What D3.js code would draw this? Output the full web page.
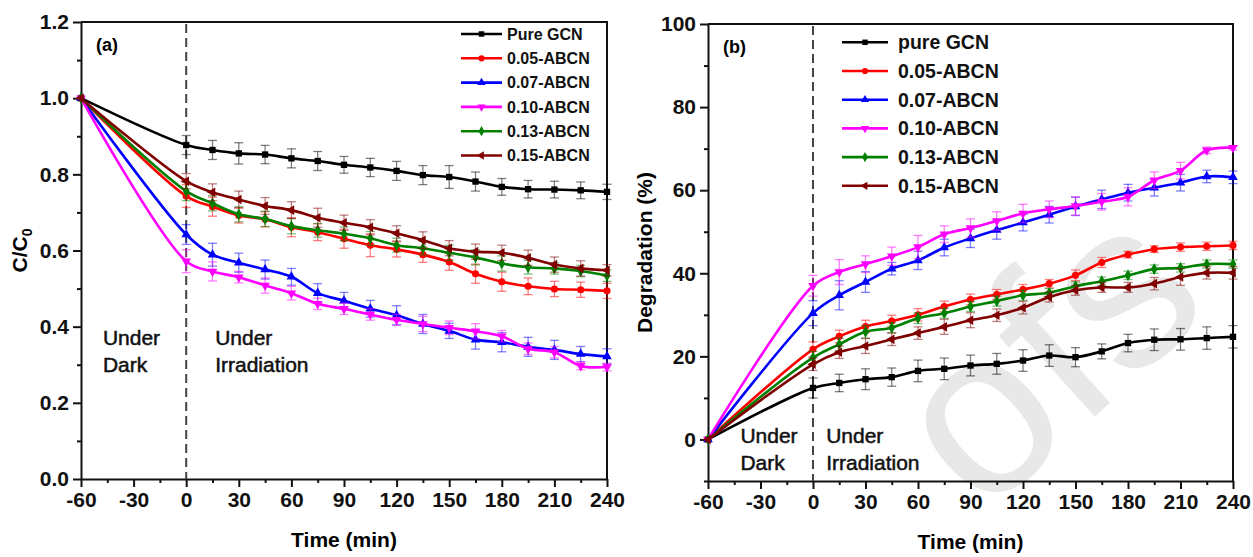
<!DOCTYPE html>
<html>
<head>
<meta charset="utf-8">
<title></title>
<style>
  body { margin:0; background:#fff; }
  svg { display:block; font-family:"Liberation Sans", Arial, sans-serif; }
  .tick text { font-weight:bold; font-size:21px; fill:#111; }
  .axis path, .axis line { stroke:#111; stroke-width:2; }
</style>
</head>
<body>
<svg id="chart" width="1253" height="557"></svg>
<script src="https://d3js.org/d3.v7.min.js"></script>
<script>
// time points (min)
var times = [-60, 0, 15, 30, 45, 60, 75, 90, 105, 120, 135, 150, 165, 180, 195, 210, 225, 240];
var xTicks = [-60, -30, 0, 30, 60, 90, 120, 150, 180, 210, 240];

// (a) C/C0
var gcnA    = [1.0, 0.877, 0.864, 0.855, 0.852, 0.842, 0.835, 0.825, 0.818, 0.809, 0.798, 0.793, 0.781, 0.767, 0.761, 0.760, 0.758, 0.754];
var abcn05A = [1.0, 0.743, 0.715, 0.692, 0.682, 0.661, 0.648, 0.631, 0.614, 0.603, 0.589, 0.570, 0.539, 0.518, 0.506, 0.499, 0.497, 0.494];
var abcn07A = [1.0, 0.642, 0.589, 0.568, 0.550, 0.531, 0.488, 0.468, 0.447, 0.430, 0.407, 0.389, 0.366, 0.359, 0.347, 0.339, 0.328, 0.322];
var abcn10A = [1.0, 0.572, 0.545, 0.530, 0.508, 0.488, 0.460, 0.447, 0.432, 0.418, 0.407, 0.397, 0.388, 0.375, 0.342, 0.333, 0.297, 0.294];
var abcn13A = [1.0, 0.756, 0.724, 0.695, 0.683, 0.664, 0.653, 0.644, 0.632, 0.614, 0.606, 0.594, 0.582, 0.566, 0.556, 0.553, 0.546, 0.534];
var abcn15A = [1.0, 0.782, 0.753, 0.734, 0.717, 0.706, 0.686, 0.673, 0.661, 0.645, 0.627, 0.606, 0.597, 0.594, 0.581, 0.563, 0.553, 0.548];

var errGcnA = [0, 0.025, 0.025, 0.028, 0.024, 0.025, 0.025, 0.022, 0.024, 0.025, 0.025, 0.030, 0.025, 0.022, 0.023, 0.022, 0.022, 0.020];
var err05A  = [0, 0.030, 0.025, 0.020, 0.020, 0.025, 0.022, 0.025, 0.030, 0.020, 0.020, 0.022, 0.025, 0.025, 0.022, 0.020, 0.020, 0.020];
var err07A  = [0, 0.026, 0.030, 0.025, 0.025, 0.022, 0.025, 0.022, 0.022, 0.025, 0.025, 0.020, 0.025, 0.025, 0.025, 0.025, 0.020, 0.020];
var err10A  = [0, 0.030, 0.025, 0.015, 0.020, 0.018, 0.015, 0.015, 0.015, 0.015, 0.020, 0.018, 0.020, 0.015, 0.015, 0.015, 0.010, 0.010];
var err13A  = [0, 0.025, 0.020, 0.020, 0.020, 0.020, 0.018, 0.018, 0.018, 0.018, 0.018, 0.020, 0.020, 0.020, 0.018, 0.015, 0.015, 0.015];
var err15A  = [0, 0.020, 0.022, 0.022, 0.022, 0.022, 0.025, 0.020, 0.020, 0.020, 0.022, 0.020, 0.020, 0.020, 0.020, 0.020, 0.020, 0.015];

// (b) Degradation (%)
var gcnB    = [0, 12.4, 13.6, 14.5, 15.0, 16.5, 17.0, 17.8, 18.2, 19.0, 20.2, 19.8, 21.2, 23.2, 24.0, 24.1, 24.4, 24.7];
var abcn05B = [0, 21.7, 24.8, 27.2, 28.5, 30.0, 32.0, 33.7, 34.9, 36.1, 37.5, 39.5, 42.6, 44.5, 45.8, 46.3, 46.5, 46.7];
var abcn07B = [0, 30.4, 34.7, 37.9, 41.1, 43.1, 46.2, 48.4, 50.4, 52.2, 54.1, 56.1, 57.8, 59.4, 60.6, 61.8, 63.3, 63.1];
var abcn10B = [0, 37.0, 40.3, 42.2, 44.1, 46.3, 49.4, 50.9, 52.6, 54.4, 55.4, 56.2, 57.2, 58.4, 62.4, 64.7, 69.6, 70.2];
var abcn13B = [0, 19.7, 22.9, 25.9, 26.9, 29.2, 30.4, 32.0, 33.3, 34.7, 35.3, 36.9, 38.1, 39.5, 41.0, 41.3, 42.2, 42.2];
var abcn15B = [0, 18.1, 21.0, 22.5, 24.1, 25.6, 27.1, 28.7, 29.9, 31.7, 34.3, 35.9, 36.6, 36.6, 37.5, 39.1, 40.1, 40.1];

var errGcnB = [0, 2.4, 2.1, 2.5, 2.2, 2.6, 2.6, 2.5, 2.5, 2.6, 2.6, 2.3, 1.8, 2.1, 2.6, 2.6, 2.7, 2.7];
var err05B  = [0, 1.8, 1.5, 1.5, 1.4, 1.5, 1.3, 1.3, 1.2, 1.2, 1.0, 1.3, 1.2, 0.8, 0.8, 1.0, 1.0, 1.0];
var err07B  = [0, 3.0, 3.5, 2.5, 1.5, 2.2, 2.0, 2.2, 2.2, 2.0, 2.0, 2.2, 2.2, 2.0, 2.0, 2.0, 1.5, 1.5];
var err10B  = [0, 2.5, 3.0, 2.0, 2.2, 2.8, 2.0, 2.2, 2.2, 2.2, 2.0, 2.2, 2.0, 2.2, 2.0, 2.0, 0.8, 0.5];
var err13B  = [0, 1.5, 1.5, 1.5, 1.2, 1.3, 1.2, 1.2, 1.2, 1.2, 1.0, 1.0, 1.0, 1.0, 1.0, 1.0, 1.0, 1.0];
var err15B  = [0, 1.5, 1.5, 1.8, 1.5, 1.5, 1.8, 1.8, 1.5, 1.5, 1.2, 1.2, 1.2, 1.2, 1.5, 2.0, 1.5, 1.5];

var labelsA = ['Pure GCN', '0.05-ABCN', '0.07-ABCN', '0.10-ABCN', '0.13-ABCN', '0.15-ABCN'];
var labelsB = ['pure GCN', '0.05-ABCN', '0.07-ABCN', '0.10-ABCN', '0.13-ABCN', '0.15-ABCN'];
var colors  = ['#000000', '#ff0000', '#0000ff', '#ff00ff', '#008000', '#800000'];
var symbols = [
  {type: d3.symbolSquare, rot: 0},
  {type: d3.symbolCircle, rot: 0},
  {type: d3.symbolTriangle, rot: 0},
  {type: d3.symbolTriangle, rot: 180},
  {type: d3.symbolDiamond, rot: 0},
  {type: d3.symbolTriangle, rot: -90}
];

var svg = d3.select('#chart');

// faint watermark behind everything
svg.append('text')
  .attr('transform', 'translate(982,518) rotate(-42)')
  .style('font-size', '235px')
  .style('fill', '#e8e8e8')
  .text('ofs');

function drawPanel(p) {
  var x = d3.scaleLinear().domain([-60, 240]).range([p.left, p.right]);
  var y = d3.scaleLinear().domain(p.yDomain).range([p.bottom, p.top]);
  var g = svg.append('g');

  // minor ticks
  g.append('g').attr('class', 'axis')
    .attr('transform', 'translate(0,' + p.bottom + ')')
    .call(d3.axisBottom(x).tickValues(d3.range(-45, 240, 30)).tickSize(4).tickFormat(''))
    .select('.domain').remove();
  g.append('g').attr('class', 'axis')
    .attr('transform', 'translate(' + p.left + ',0)')
    .call(d3.axisLeft(y).tickValues(p.yMinor).tickSize(4).tickFormat(''))
    .select('.domain').remove();

  // major axes
  g.append('g').attr('class', 'axis')
    .attr('transform', 'translate(0,' + p.bottom + ')')
    .call(d3.axisBottom(x).tickValues(xTicks).tickSize(8).tickSizeOuter(0).tickPadding(5)
      .tickFormat(function(d) { return String(d); }));
  g.append('g').attr('class', 'axis')
    .attr('transform', 'translate(' + p.left + ',0)')
    .call(d3.axisLeft(y).tickValues(p.yTicks).tickSize(8).tickSizeOuter(0).tickPadding(4).tickFormat(p.yFormat));

  // top & right frame
  g.append('path')
    .attr('d', 'M' + p.left + ',' + p.top + 'H' + p.right + 'V' + p.bottom)
    .attr('fill', 'none').attr('stroke', '#111').attr('stroke-width', 2);

  // dashed separator at t = 0
  g.append('line')
    .attr('x1', x(0)).attr('x2', x(0)).attr('y1', p.top + 2).attr('y2', p.bottom)
    .attr('stroke', '#444').attr('stroke-width', 2).attr('stroke-dasharray', '9,5');

  // series
  var line = d3.line().x(function(d) { return x(d.t); }).y(function(d) { return y(d.v); })
    .curve(d3.curveCatmullRom.alpha(0.5));

  p.series.forEach(function(vals, i) {
    var pts = times.map(function(t, k) { return {t: t, v: vals[k], e: p.errs[i][k]}; });
    var sg = g.append('g');
    var eb = sg.append('g').attr('stroke', colors[i]).attr('stroke-opacity', 0.5).attr('stroke-width', 1.3);
    pts.filter(function(d) { return d.e > 0; }).forEach(function(d) {
      var cx = x(d.t), y1 = y(d.v - d.e), y2 = y(d.v + d.e);
      eb.append('line').attr('x1', cx).attr('x2', cx).attr('y1', y1).attr('y2', y2);
      eb.append('line').attr('x1', cx - 4.5).attr('x2', cx + 4.5).attr('y1', y1).attr('y2', y1);
      eb.append('line').attr('x1', cx - 4.5).attr('x2', cx + 4.5).attr('y1', y2).attr('y2', y2);
    });
    sg.append('path').datum(pts)
      .attr('d', line).attr('fill', 'none')
      .attr('stroke', colors[i]).attr('stroke-width', 2.6);
    sg.selectAll('path.mk').data(pts).enter().append('path')
      .attr('class', 'mk')
      .attr('d', d3.symbol().type(symbols[i].type).size(40))
      .attr('transform', function(d) { return 'translate(' + x(d.t) + ',' + y(d.v) + ') rotate(' + symbols[i].rot + ')'; })
      .attr('fill', colors[i]);
  });

  // legend
  var lg = g.append('g');
  p.labels.forEach(function(lab, i) {
    var ly = p.leg.y + i * p.leg.dy;
    lg.append('line')
      .attr('x1', p.leg.x1).attr('x2', p.leg.x2).attr('y1', ly).attr('y2', ly)
      .attr('stroke', colors[i]).attr('stroke-width', 2.6);
    lg.append('path')
      .attr('d', d3.symbol().type(symbols[i].type).size(30))
      .attr('transform', 'translate(' + ((p.leg.x1 + p.leg.x2) / 2) + ',' + ly + ') rotate(' + symbols[i].rot + ')')
      .attr('fill', colors[i]);
    lg.append('text')
      .attr('x', p.leg.tx).attr('y', ly).attr('dy', '0.36em')
      .style('font-size', p.leg.fs + 'px').style('font-weight', 'bold').style('fill', '#111')
      .text(lab);
  });

  // panel tag
  g.append('text').attr('x', p.left + 15).attr('y', p.top + 29)
    .style('font-size', '18px').style('font-weight', 'bold').text(p.tag);

  // region notes
  function note(tx, lines) {
    lines.forEach(function(s, k) {
      g.append('text').attr('x', x(tx)).attr('y', p.noteY + k * 27)
        .style('font-size', '21px').style('fill', '#111')
        .style('stroke', '#111').style('stroke-width', 0.5)
        .text(s);
    });
  }
  note(p.darkT, ['Under', 'Dark']);
  note(p.irrT, ['Under', 'Irradiation']);

  // axis titles
  g.append('text').attr('x', (p.left + p.right) / 2).attr('y', p.bottom + 68)
    .attr('text-anchor', 'middle').style('font-size', '21px').style('font-weight', 'bold')
    .text('Time (min)');
  var yt = g.append('text')
    .attr('transform', 'translate(' + p.yTitleX + ',' + ((p.top + p.bottom) / 2) + ') rotate(-90)')
    .attr('text-anchor', 'middle').style('font-size', '21px').style('font-weight', 'bold');
  if (p.sub) {
    yt.append('tspan').text('C/C');
    yt.append('tspan').attr('dy', 5).style('font-size', '14px').text('0');
  } else {
    yt.text(p.yTitle);
  }
}

drawPanel({
  left: 81, right: 607, top: 22, bottom: 479,
  yDomain: [0, 1.2],
  yTicks: [0, 0.2, 0.4, 0.6, 0.8, 1.0, 1.2],
  yMinor: [0.1, 0.3, 0.5, 0.7, 0.9, 1.1],
  yFormat: d3.format('.1f'),
  series: [gcnA, abcn05A, abcn07A, abcn10A, abcn13A, abcn15A],
  errs: [errGcnA, err05A, err07A, err10A, err13A, err15A],
  labels: labelsA,
  leg: {x1: 461, x2: 502, tx: 507, y: 34, dy: 24.3, fs: 16},
  tag: '(a)',
  noteY: 345, darkT: -47.5, irrT: 16.5,
  yTitleX: 27, sub: true
});

drawPanel({
  left: 708, right: 1233, top: 24, bottom: 481,
  yDomain: [-10, 100],
  yTicks: [0, 20, 40, 60, 80, 100],
  yMinor: [-10, 10, 30, 50, 70, 90],
  yFormat: d3.format('d'),
  series: [gcnB, abcn05B, abcn07B, abcn10B, abcn13B, abcn15B],
  errs: [errGcnB, err05B, err07B, err10B, err13B, err15B],
  labels: labelsB,
  leg: {x1: 842, x2: 888, tx: 898, y: 42.3, dy: 28.7, fs: 19.5},
  tag: '(b)',
  noteY: 443, darkT: -41.5, irrT: 7.5,
  yTitleX: 652, yTitle: 'Degradation (%)'
});
</script>
</body>
</html>
